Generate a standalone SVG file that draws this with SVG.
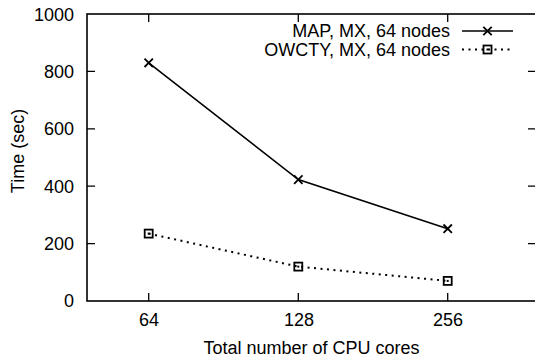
<svg xmlns="http://www.w3.org/2000/svg" width="535" height="360" viewBox="0 0 535 360">
<style>
text{font-family:"Liberation Sans",Arial,sans-serif;font-size:18px;fill:#000}
.yl{text-anchor:end}
.xl{text-anchor:middle}
.frame{fill:none;stroke:#000;stroke-width:1.6}
.tick{stroke:#000;stroke-width:1.3}
.solid{fill:none;stroke:#000;stroke-width:1.6}
.dot{fill:none;stroke:#000;stroke-width:2;stroke-dasharray:2 4.5}
.mk{fill:none;stroke:#000;stroke-width:1.8}
</style>
<defs>
<g id="cross"><path class="mk" d="M-4.2,-4.2L4.2,4.2M-4.2,4.2L4.2,-4.2"/></g>
<g id="sq"><rect class="mk" x="-4" y="-4" width="8" height="8"/><rect x="-1" y="-1" width="2" height="2" fill="#000"/></g>
</defs>
<rect width="535" height="360" fill="#fff"/>
<g id="axes">
<rect class="frame" x="87" y="14" width="450" height="287"/>
<path class="tick" d="M87,71.4h8M87,128.8h8M87,186.2h8M87,243.6h8M528,71.4h8M528,128.8h8M528,186.2h8M528,243.6h8M148.7,301v-8M298.3,301v-8M447.7,301v-8M148.7,14v8M298.3,14v8M447.7,14v8"/>
<text class="yl" x="74" y="20.5">1000</text>
<text class="yl" x="74" y="77.8">800</text>
<text class="yl" x="74" y="135.2">600</text>
<text class="yl" x="74" y="192.6">400</text>
<text class="yl" x="74" y="250">200</text>
<text class="yl" x="74" y="307.4">0</text>
<text class="xl" x="149" y="326">64</text>
<text class="xl" x="299" y="326">128</text>
<text class="xl" x="448" y="326">256</text>
<text class="xl" x="311.5" y="354">Total number of CPU cores</text>
<text class="xl" transform="translate(24,151) rotate(-90)">Time (sec)</text>
</g>
<g id="connectors">
<path id="map-line" class="solid" d="M148.7,62.8L298.3,179.6L447.7,228.7"/>
<path id="owcty-line" class="dot" d="M148.7,233.6L298.3,266.6L447.7,280.9"/>
<path id="legend-map-line" class="solid" d="M462,31H513"/>
<path id="legend-owcty-line" class="dot" d="M462,49.5H513"/>
</g>
<g id="map-points">
<use href="#cross" x="148.7" y="62.8"/>
<use href="#cross" x="298.3" y="179.6"/>
<use href="#cross" x="447.7" y="228.7"/>
</g>
<g id="owcty-points">
<use href="#sq" x="148.7" y="233.6"/>
<use href="#sq" x="298.3" y="266.6"/>
<use href="#sq" x="447.7" y="280.9"/>
</g>
<g id="legend">
<text class="yl" x="450" y="37">MAP, MX, 64 nodes</text>
<text class="yl" x="450" y="55.5">OWCTY, MX, 64 nodes</text>
<use href="#cross" x="487.5" y="31"/>
<use href="#sq" x="487.5" y="49.5"/>
</g>
</svg>
